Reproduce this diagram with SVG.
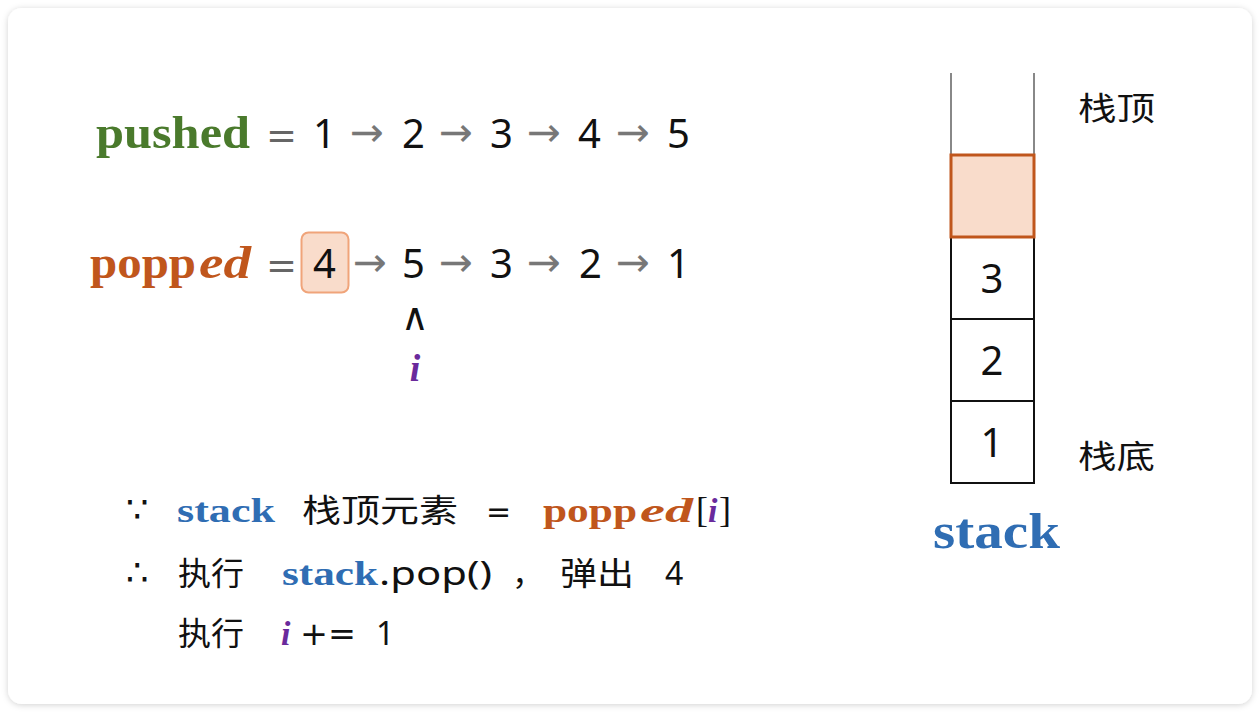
<svg xmlns="http://www.w3.org/2000/svg" width="1260" height="712" viewBox="0 0 1260 712">
<defs>
<filter id="sh" x="-5%" y="-5%" width="110%" height="110%">
<feDropShadow dx="0" dy="1" stdDeviation="3" flood-color="#000" flood-opacity="0.18"/>
</filter>
<style>
.num{font-family:"Noto Sans","Open Sans",sans-serif;font-size:40px;fill:#111}
.arr{font-family:"DejaVu Sans",sans-serif;font-size:40px;fill:#777}
.eq{font-family:"DejaVu Sans",sans-serif;font-size:38px;fill:#666}
.bs{font-family:"Liberation Serif",serif;font-weight:bold}
.green{fill:#4a7a2c}
.orange{fill:#c0561c}
.blue{fill:#2f6db3}
.purple{fill:#6a2a9c}
.cjk{font-family:"Noto Sans CJK SC",sans-serif;font-size:32px;fill:#111}
.txt{font-family:"Noto Sans","Open Sans",sans-serif;font-size:32px;fill:#111}
.cell{fill:#fff;stroke:#111;stroke-width:2}
</style>
</defs>
<rect width="1260" height="712" fill="#fff"/>
<rect x="8" y="8" width="1244" height="696" rx="14" fill="#fff" filter="url(#sh)"/>

<g id="pushed-row">
<text x="96" y="148" class="bs green" font-size="46" textLength="154" lengthAdjust="spacingAndGlyphs">pushed</text>
<text x="266" y="148" class="eq" textLength="31" lengthAdjust="spacingAndGlyphs">=</text>
<text x="313" y="148" class="num">1</text>
<text x="350" y="146" class="arr" textLength="34" lengthAdjust="spacingAndGlyphs">→</text>
<text x="402" y="148" class="num">2</text>
<text x="439" y="146" class="arr" textLength="34" lengthAdjust="spacingAndGlyphs">→</text>
<text x="490" y="148" class="num">3</text>
<text x="527" y="146" class="arr" textLength="34" lengthAdjust="spacingAndGlyphs">→</text>
<text x="578" y="148" class="num">4</text>
<text x="616" y="146" class="arr" textLength="34" lengthAdjust="spacingAndGlyphs">→</text>
<text x="667" y="148" class="num">5</text>
</g>

<g id="popped-row">
<text x="90" y="278" class="bs orange" font-size="46" textLength="106" lengthAdjust="spacingAndGlyphs">popp</text>
<text x="199" y="278" class="bs orange" font-size="46" font-style="italic" textLength="52" lengthAdjust="spacingAndGlyphs">ed</text>
<text x="266" y="278" class="eq" textLength="31" lengthAdjust="spacingAndGlyphs">=</text>
<rect x="301.500" y="232.500" width="47" height="60" rx="7" fill="#f9dccb" stroke="#f0a47a" stroke-width="2"/>
<text x="313" y="278" class="num">4</text>
<text x="353" y="276" class="arr" textLength="34" lengthAdjust="spacingAndGlyphs">→</text>
<text x="402" y="278" class="num">5</text>
<text x="439" y="276" class="arr" textLength="34" lengthAdjust="spacingAndGlyphs">→</text>
<text x="490" y="278" class="num">3</text>
<text x="527" y="276" class="arr" textLength="34" lengthAdjust="spacingAndGlyphs">→</text>
<text x="579" y="278" class="num">2</text>
<text x="616" y="276" class="arr" textLength="34" lengthAdjust="spacingAndGlyphs">→</text>
<text x="667" y="278" class="num">1</text>
</g>

<g id="pointer">
<text x="415" y="330" text-anchor="middle" font-family="DejaVu Sans,sans-serif" font-size="38" fill="#111">∧</text>
<text x="415" y="381" text-anchor="middle" class="bs purple" font-size="38" font-style="italic">i</text>
</g>

<g id="explanation">
<text x="126" y="522" font-family="DejaVu Sans,sans-serif" font-size="36" fill="#111">∵</text>
<text x="177" y="522" class="bs blue" font-size="34" textLength="98" lengthAdjust="spacingAndGlyphs">stack</text>
<text x="302" y="522" class="cjk" textLength="156" lengthAdjust="spacingAndGlyphs">栈顶元素</text>
<text x="486" y="522" font-family="DejaVu Sans,sans-serif" font-size="30" fill="#111">=</text>
<text x="543" y="522" class="bs orange" font-size="34" textLength="94" lengthAdjust="spacingAndGlyphs">popp</text>
<text x="640" y="522" class="bs orange" font-size="34" font-style="italic" textLength="53" lengthAdjust="spacingAndGlyphs">ed</text>
<text x="696" y="522" font-family="Liberation Serif,serif" font-size="36" fill="#111">[</text>
<text x="708" y="522" class="bs purple" font-size="34" font-style="italic">i</text>
<text x="719" y="522" font-family="Liberation Serif,serif" font-size="36" fill="#111">]</text>

<text x="126" y="585" font-family="DejaVu Sans,sans-serif" font-size="36" fill="#111">∴</text>
<text x="178" y="585" class="cjk" textLength="66" lengthAdjust="spacingAndGlyphs">执行</text>
<text x="282" y="585" class="bs blue" font-size="34" textLength="96" lengthAdjust="spacingAndGlyphs">stack</text>
<text x="379" y="585" class="txt" textLength="113" lengthAdjust="spacingAndGlyphs">.pop()</text>
<text x="512" y="585" class="cjk">，</text>
<text x="560" y="585" class="cjk" textLength="74" lengthAdjust="spacingAndGlyphs">弹出</text>
<text x="665" y="585" class="txt">4</text>

<text x="178" y="645" class="cjk" textLength="66" lengthAdjust="spacingAndGlyphs">执行</text>
<text x="281" y="645" class="bs purple" font-size="34" font-style="italic">i</text>
<text x="300" y="645" font-family="DejaVu Sans,sans-serif" font-size="32" fill="#111" textLength="56" lengthAdjust="spacingAndGlyphs">+=</text>
<text x="376" y="645" class="txt">1</text>
</g>

<g id="stack">
<line x1="951" y1="73" x2="951" y2="155" stroke="#888" stroke-width="2"/>
<line x1="1034" y1="73" x2="1034" y2="155" stroke="#888" stroke-width="2"/>
<rect id="cell-3" x="951" y="237" width="83" height="82" class="cell"/>
<rect id="cell-2" x="951" y="319" width="83" height="82" class="cell"/>
<rect id="cell-1" x="951" y="401" width="83" height="82" class="cell"/>
<rect id="cell-top" x="951" y="155" width="83" height="82" fill="#f9dccb" stroke="#c0561c" stroke-width="3"/>
<text x="992" y="293" text-anchor="middle" class="num">3</text>
<text x="992" y="375" text-anchor="middle" class="num">2</text>
<text x="992" y="457" text-anchor="middle" class="num">1</text>
<text x="1078" y="120" class="cjk" font-size="34" textLength="77" lengthAdjust="spacingAndGlyphs">栈顶</text>
<text x="1078" y="468" class="cjk" font-size="34" textLength="77" lengthAdjust="spacingAndGlyphs">栈底</text>
<text x="933" y="548" class="bs blue" font-size="50" textLength="127" lengthAdjust="spacingAndGlyphs">stack</text>
</g>
</svg>
